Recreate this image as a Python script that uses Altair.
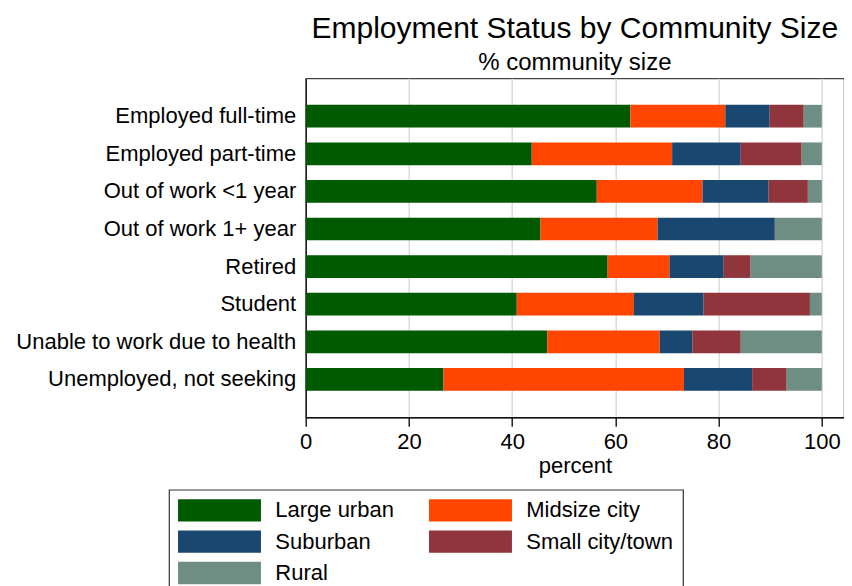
import altair as alt
import pandas as pd

statuses = ["Employed full-time", "Employed part-time", "Out of work <1 year",
            "Out of work 1+ year", "Retired", "Student",
            "Unable to work due to health", "Unemployed, not seeking"]
groups = ["Large urban", "Midsize city", "Suburban", "Small city/town", "Rural"]
colors = ["#005a00", "#ff4500", "#1a476f", "#90353b", "#6e8e84"]

large_urban = [62.9, 43.8, 56.4, 45.5, 58.5, 40.9, 46.8, 26.7]
midsize_city = [18.4, 27.2, 20.5, 22.7, 12.0, 22.7, 21.8, 46.6]
suburban = [8.6, 13.3, 12.8, 22.7, 10.5, 13.5, 6.3, 13.2]
small_city = [6.6, 11.8, 7.6, 0.0, 5.2, 20.6, 9.4, 6.7]
rural = [3.5, 3.9, 2.7, 9.1, 13.8, 2.3, 15.7, 6.8]

x_ticks = [0, 20, 40, 60, 80, 100]

series = [large_urban, midsize_city, suburban, small_city, rural]
rows = []
for gi, (g, vals) in enumerate(zip(groups, series)):
    for s, v in zip(statuses, vals):
        rows.append({"status": s, "group": g, "value": v, "gorder": gi})
df = pd.DataFrame(rows)

# legend fills column by column: arrange so it reads row by row
legend_order = [0, 2, 4, 1, 3]
legend_domain = [groups[i] for i in legend_order]
legend_range = [colors[i] for i in legend_order]

FONT = "Liberation Sans"

chart = alt.Chart(df).mark_bar(strokeWidth=0).encode(
    y=alt.Y("status:N", sort=statuses,
            scale=alt.Scale(paddingInner=0.396, paddingOuter=0.706),
            axis=alt.Axis(title=None, ticks=False, grid=False, labelPadding=10,
                          labelFontSize=22, labelLimit=400,
                          domainColor="black", domainWidth=1.3)),
    x=alt.X("value:Q", stack="zero",
            scale=alt.Scale(domain=[0, 104.3], nice=False, zero=True),
            axis=alt.Axis(title="percent", values=x_ticks, grid=True,
                          tickSize=9, tickWidth=1.3, tickColor="black",
                          domainColor="black", domainWidth=1.3,
                          labelFontSize=22, titleFontSize=22, labelPadding=5,
                          labelFlush=False,
                          titlePadding=3, gridColor="#dcdcdc", gridWidth=1.5)),
    color=alt.Color("group:N",
                    scale=alt.Scale(domain=legend_domain, range=legend_range),
                    legend=alt.Legend(orient="none", legendX=-136.7, legendY=411.4,
                                      columns=2, title=None,
                                      symbolType="M-3.72,-1H3.72V1H-3.72Z",
                                      symbolSize=497, symbolStrokeWidth=0,
                                      symbolOpacity=1, symbolOffset=30,
                                      labelOffset=44.3, labelFontSize=22,
                                      columnPadding=35, rowPadding=8.4,
                                      padding=9, strokeColor="#333333",
                                      fillColor="white")),
    order=alt.Order("gorder:Q", sort="ascending"),
).properties(
    width=538.3, height=339,
    title=alt.TitleParams("Employment Status by Community Size",
                          subtitle="% community size", anchor="middle",
                          fontSize=30, subtitleFontSize=24, fontWeight="normal",
                          color="black", subtitleColor="black",
                          font=FONT, subtitleFont=FONT, offset=3,
                          subtitlePadding=7),
    padding={"left": 297.7, "top": 70.3, "right": 0, "bottom": 190},
    autosize="none",
).configure_view(
    stroke="#444444", strokeWidth=1.2
).configure_axis(
    labelFont=FONT, titleFont=FONT, labelColor="black", titleColor="black",
    titleFontWeight="normal"
).configure_legend(
    labelFont=FONT, labelColor="black", strokeWidth=1.2
)

chart.save("out.html", embed_options={"renderer": "svg", "actions": False})
